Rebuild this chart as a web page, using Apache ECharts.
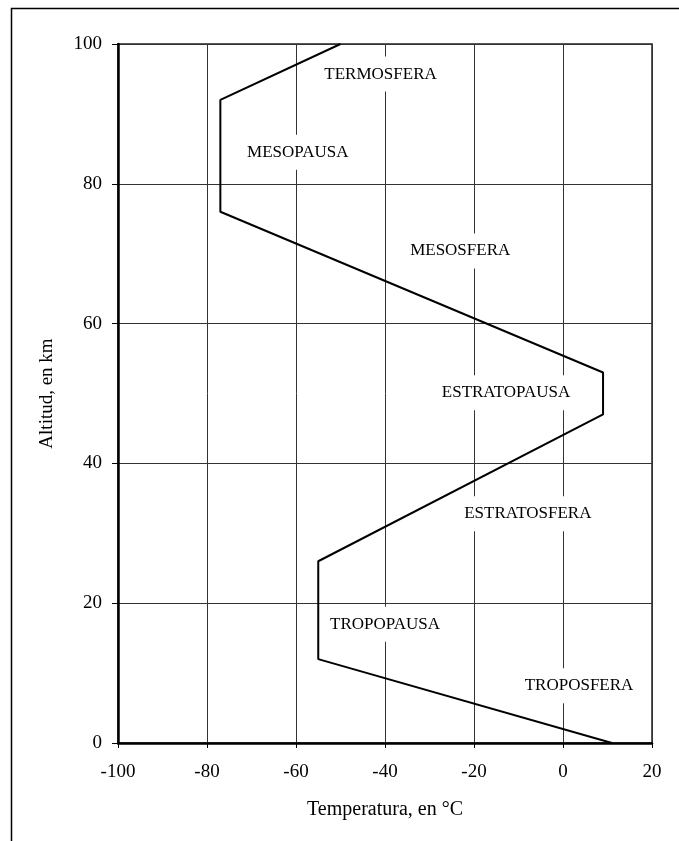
<!DOCTYPE html>
<html>
<head>
<meta charset="utf-8">
<script src="https://cdn.jsdelivr.net/npm/echarts@6/dist/echarts.min.js"></script>
<style>
  html, body { margin: 0; padding: 0; background: #fff; }
  #chart { width: 679px; height: 841px; }
</style>
</head>
<body>
<div id="chart"></div>
<script>
// perfil de temperatura: [temperatura °C, altitud km]
var perfil = [[11, 0], [-55, 12], [-55, 26], [9, 47], [9, 53], [-77, 76], [-77, 92], [-50, 100]];

// nombres de capas y donde van escritos (en unidades de los ejes)
var capas = ['TERMOSFERA', 'MESOPAUSA', 'MESOSFERA', 'ESTRATOPAUSA', 'ESTRATOSFERA', 'TROPOPAUSA', 'TROPOSFERA'];
var capasX = [-41, -59.6, -23.1, -12.8, -7.9, -40, 3.6];
var capasY = [95.7, 84.5, 70.4, 50.1, 32.8, 17.0, 8.2];

var fuente = '"Liberation Serif", "Times New Roman", serif';

var etiquetas = [];
for (let i = 0; i < capas.length; i++) {
    etiquetas.push({ name: capas[i], value: [capasX[i], capasY[i]] });
}

var myChart = echarts.init(document.getElementById('chart'));
var option = {
    backgroundColor: '#fff',
    animation: false,
    textStyle: { fontFamily: fuente, color: '#000' },
    graphic: [
        {
            type: 'rect',
            shape: { x: 11.5, y: 8.5, width: 700, height: 900 },
            style: { fill: 'none', stroke: '#000', lineWidth: 1.5 },
            silent: true
        }
    ],
    grid: {
        left: 118, top: 44, width: 534, height: 699,
        show: true, borderColor: '#222', borderWidth: 1.5, backgroundColor: 'transparent'
    },
    xAxis: {
        type: 'value', min: -100, max: 20, interval: 20,
        name: 'Temperatura, en °C', nameLocation: 'middle', nameGap: 57,
        nameTextStyle: { fontFamily: fuente, fontSize: 20, color: '#000' },
        axisLine: { onZero: false, lineStyle: { color: '#000', width: 2.5 } },
        axisTick: { show: true, length: 5, lineStyle: { color: '#000', width: 1 } },
        axisLabel: { fontFamily: fuente, fontSize: 19, color: '#000', margin: 20 },
        splitLine: { show: true, lineStyle: { color: '#333', width: 1 } }
    },
    yAxis: {
        type: 'value', min: 0, max: 100, interval: 20,
        name: 'Altitud, en km', nameLocation: 'middle', nameGap: 61, nameRotate: 90,
        nameTextStyle: { fontFamily: fuente, fontSize: 19, color: '#000' },
        axisLine: { onZero: false, lineStyle: { color: '#000', width: 2.5 } },
        axisTick: { show: true, length: 6, lineStyle: { color: '#000', width: 1 } },
        axisLabel: { fontFamily: fuente, fontSize: 19, color: '#000', margin: 16 },
        splitLine: { show: true, lineStyle: { color: '#333', width: 1 } }
    },
    series: [
        {
            type: 'line',
            data: perfil,
            symbol: 'none',
            lineStyle: { color: '#000', width: 2 },
            z: 3
        },
        {
            type: 'scatter',
            data: etiquetas,
            symbolSize: 0,
            itemStyle: { opacity: 1 },
            z: 4,
            label: {
                show: true,
                position: 'inside',
                formatter: '{b}',
                fontFamily: fuente,
                fontSize: 17,
                color: '#000',
                opacity: 1,
                backgroundColor: '#fff',
                padding: [9, 2]
            }
        }
    ]
};
myChart.setOption(option);
</script>
</body>
</html>
